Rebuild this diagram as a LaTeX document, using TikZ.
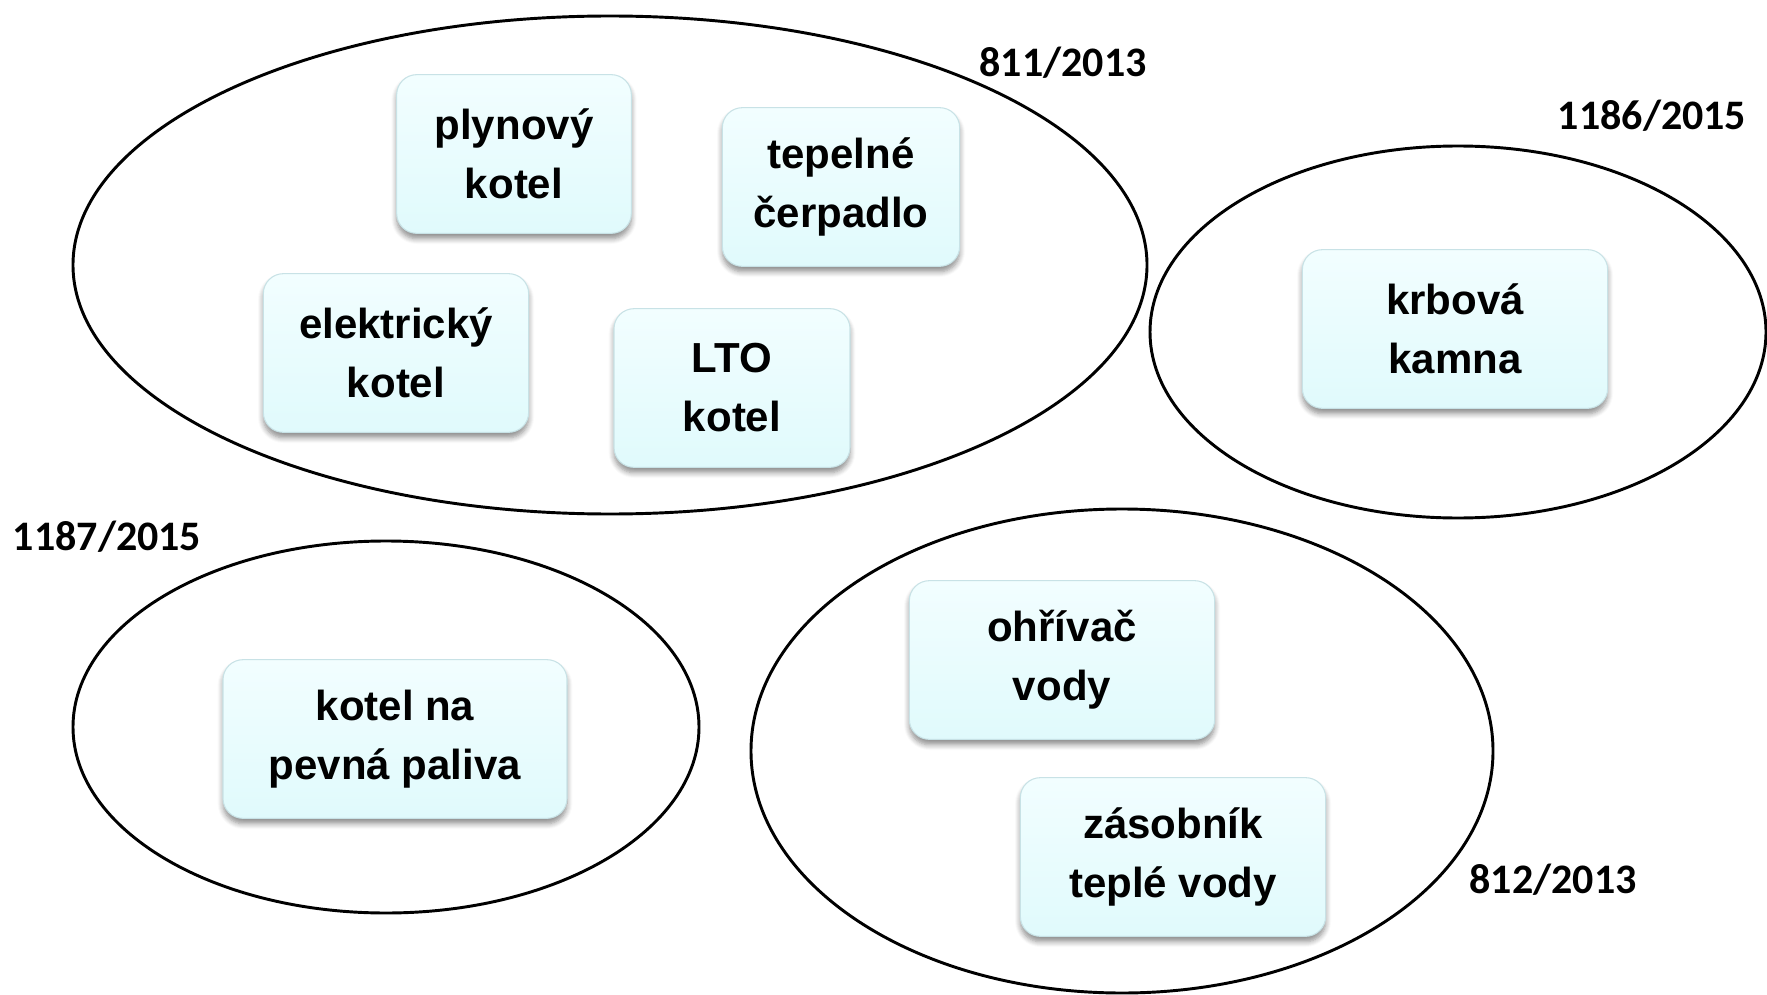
\documentclass[tikz,border=0pt]{standalone}
\usepackage{fontspec}
\usetikzlibrary{shapes.geometric,shadows.blur}
\setmainfont{Liberation Sans}
\newfontfamily\labfont{Carlito}
\definecolor{boxtop}{RGB}{242,254,255}
\definecolor{boxbot}{RGB}{224,250,252}
\definecolor{boxline}{RGB}{200,226,230}
\tikzset{
  setbox/.style={ellipse, draw=black, line width=2.2pt, inner sep=0pt},
  itembox/.style={rounded corners=15pt, draw=boxline, line width=0.8pt,
    top color=boxtop, bottom color=boxbot, align=center,
    minimum height=119pt, inner sep=0pt,
    font=\rmfamily\bfseries\fontsize{31.5}{44.25}\selectfont,
    blur shadow={shadow xshift=0pt, shadow yshift=-4pt, shadow blur steps=6, shadow opacity=45, shadow blur radius=4pt}},
  lab/.style={anchor=base, inner sep=0pt, font=\labfont\bfseries\fontsize{31.5}{38}\selectfont}
}
\begin{document}
\begin{tikzpicture}[x=0.75pt,y=-0.75pt]
\useasboundingbox (0,0) rectangle (1767,995);
% sets
\node[setbox, minimum width=805.5pt, minimum height=373.5pt] (e1) at (610,265) {};
\node[setbox, minimum width=462pt, minimum height=279pt] (e2) at (1458,332) {};
\node[setbox, minimum width=469.5pt, minimum height=279pt] (e3) at (386,727) {};
\node[setbox, minimum width=556.5pt, minimum height=363pt] (e4) at (1122,751) {};
% labels
\node[lab] (l1) at (1063,77) {811/2013};
\node[lab] (l2) at (1652,130) {1186/2015};
\node[lab] (l3) at (107,550) {1187/2015};
\node[lab] (l4) at (1553,893) {812/2013};
% items
\node[itembox, minimum width=176pt] (b1) at (514,154) {plynový\\kotel};
\node[itembox, minimum width=178pt] (b2) at (841,187) {tepelné\\čerpadlo};
\node[itembox, minimum width=199pt] (b3) at (396,353) {elektrický\\kotel};
\node[itembox, minimum width=177pt] (b4) at (732,388) {LTO\\kotel};
\node[itembox, minimum width=229pt] (b5) at (1455,329) {krbová\\kamna};
\node[itembox, minimum width=258pt] (b6) at (395,739) {kotel na\\pevná paliva};
\node[itembox, minimum width=229pt] (b7) at (1062,660) {ohřívač\\vody};
\node[itembox, minimum width=229pt] (b8) at (1173,857) {zásobník\\teplé vody};
\end{tikzpicture}
\end{document}
